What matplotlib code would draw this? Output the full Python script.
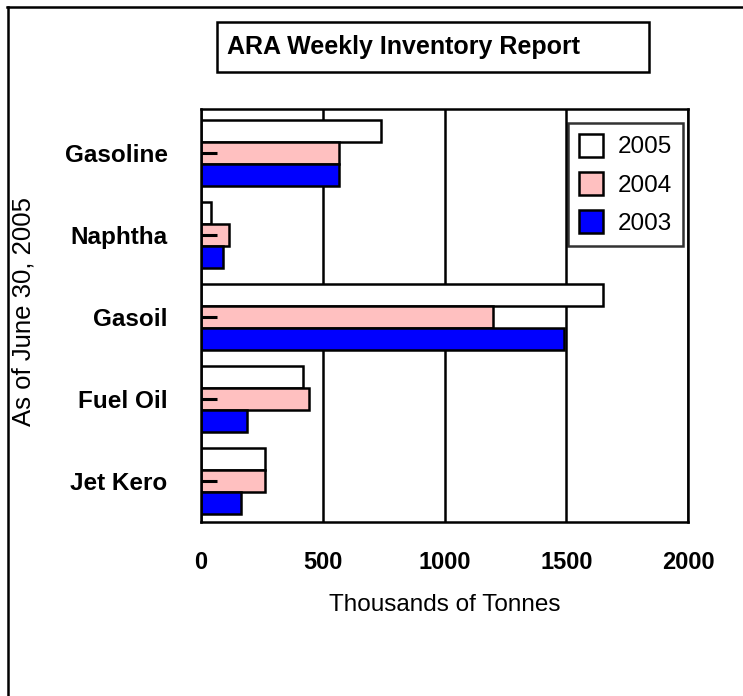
import matplotlib.pyplot as plt
import numpy as np
from matplotlib.patches import Rectangle
from matplotlib.lines import Line2D

plt.rcParams['font.family'] = ['Liberation Sans', 'DejaVu Sans']

# ARA stocks, thousands of tonnes
products = ['Gasoline', 'Naphtha', 'Gasoil', 'Fuel Oil', 'Jet Kero']
years = ['2005', '2004', '2003']
stock_2005 = [738, 41, 1650, 418, 262]
stock_2004 = [566, 115, 1198, 443, 262]
stock_2003 = [566, 90, 1492, 188, 164]
xticks = [0, 500, 1000, 1500, 2000]

colors = ['white', '#FFC0C0', '#0000FF']

fig = plt.figure(figsize=(7.43, 6.96), dpi=100)
W, H = 743, 696

# axes placed in pixel terms
ax = fig.add_axes([201 / W, 1 - 522 / H, 487 / W, 413 / H])

y = np.arange(len(products))
h = 0.8 / 3
for i, (vals, c, lab) in enumerate(zip([stock_2005, stock_2004, stock_2003], colors, years)):
    ax.barh(y + (i - 1) * h, vals, height=h, color=c, edgecolor='black',
            linewidth=1.8, label=lab, zorder=3)

ax.set_xlim(0, 2000)
ax.set_ylim(len(products) - 0.5, -0.54)
ax.set_xticks(xticks)
ax.set_xticklabels([str(t) for t in xticks], fontsize=17, fontweight='bold')
ax.set_yticks(y)
ax.set_yticklabels(products, fontsize=17.5, fontweight='bold')
ax.tick_params(axis='x', length=0, pad=21)
ax.tick_params(axis='y', direction='in', length=11.5, width=2.2, pad=24)
ax.grid(axis='x', color='black', linewidth=1.8)
ax.set_axisbelow(True)
ax.yaxis.set_zorder(5)  # little inner ticks sit on top of the bars
for s in ax.spines.values():
    s.set_linewidth(1.8)
    s.set_zorder(4)

ax.set_xlabel('Thousands of Tonnes', fontsize=17.5, labelpad=14)
fig.text(24 / W, 1 - 311 / H, 'As of June 30, 2005', rotation=90, fontsize=18.5,
         ha='center', va='center')

leg = ax.legend(loc='lower right', bbox_to_anchor=(683 / W, 1 - 246 / H),
                bbox_transform=fig.transFigure, fontsize=17.5, frameon=True,
                fancybox=False, shadow=False, handlelength=1.0, handleheight=1.1,
                handletextpad=0.6, labelspacing=0.55, borderpad=0.45,
                borderaxespad=0)
leg.get_frame().set_edgecolor('black')
leg.get_frame().set_linewidth(1.8)
leg.set_zorder(10)

# title box
fig.patches.append(Rectangle((217 / W, 1 - 72 / H), 432 / W, 50 / H,
                             transform=fig.transFigure, fill=False,
                             edgecolor='black', linewidth=1.8))
fig.text(227 / W, 1 - 47 / H, 'ARA Weekly Inventory Report', fontsize=18,
         fontweight='bold', ha='left', va='center')

# outer frame (only top and left visible)
fig.lines.append(Line2D([7 / W, 1], [1 - 7 / H, 1 - 7 / H], transform=fig.transFigure,
                        color='black', linewidth=1.8))
fig.lines.append(Line2D([8 / W, 8 / W], [0, 1 - 7 / H], transform=fig.transFigure,
                        color='black', linewidth=1.8))

fig.savefig('out.png', dpi=100)
